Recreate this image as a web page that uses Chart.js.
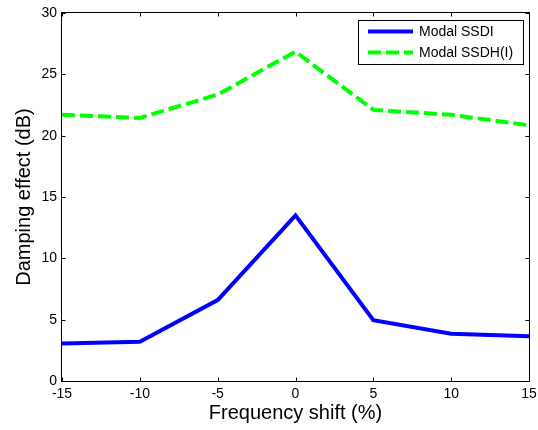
<!DOCTYPE html>
<html><head><meta charset="utf-8">
<script src="https://cdn.jsdelivr.net/npm/chart.js@4"></script>
<style>html,body{margin:0;padding:0;background:#fff}canvas{display:block}</style>
</head><body>
<canvas id="c" width="538" height="430"></canvas>
<script>
const frequencyShift = [-15, -10, -5, 0, 5, 10, 15];
const modalSSDI = [3.05, 3.2, 6.6, 13.5, 4.95, 3.85, 3.65];
const modalSSDH = [21.7, 21.45, 23.35, 26.85, 22.1, 21.7, 20.85];
const xTicks = [-15, -10, -5, 0, 5, 10, 15];
const yTicks = [0, 5, 10, 15, 20, 25, 30];
const seriesLabels = ['Modal SSDI', 'Modal SSDH(I)'];
const xTitle = 'Frequency shift (%)';
const yTitle = 'Damping effect (dB)';

const FONT = '"Liberation Sans", Arial, Helvetica, sans-serif';
Chart.defaults.font.family = FONT;
Chart.defaults.color = '#000';

const toPoints = vals => frequencyShift.map((x, i) => ({x: x, y: vals[i]}));

const boxPlugin = {
  id: 'boxTicks',
  afterDraw(chart) {
    const {ctx, chartArea: a, scales: {x, y}} = chart;
    const L = Math.round(a.left) - 0.5, R = Math.round(a.right) + 0.5;
    const T = Math.round(a.top) - 0.5, B = Math.round(a.bottom) + 0.5;
    ctx.save();
    ctx.strokeStyle = '#000';
    ctx.lineWidth = 1;
    ctx.setLineDash([]);
    ctx.strokeRect(L, T, R - L, B - T);
    const tl = 4;
    ctx.beginPath();
    xTicks.forEach(v => {
      const px = Math.round(x.getPixelForValue(v)) + 0.5;
      ctx.moveTo(px, B); ctx.lineTo(px, B - tl);
      ctx.moveTo(px, T); ctx.lineTo(px, T + tl);
    });
    yTicks.forEach(v => {
      const py = Math.round(y.getPixelForValue(v)) + 0.5;
      ctx.moveTo(L, py); ctx.lineTo(L + tl, py);
      ctx.moveTo(R, py); ctx.lineTo(R - tl, py);
    });
    ctx.stroke();

    // legend box
    const lx = 358.5, ly = 20.5, lw = 165, lh = 44;
    ctx.fillStyle = '#fff';
    ctx.fillRect(lx, ly, lw, lh);
    ctx.strokeRect(lx, ly, lw, lh);
    const rows = [31.5, 52.5];
    chart.data.datasets.forEach((ds, i) => {
      ctx.beginPath();
      ctx.strokeStyle = ds.borderColor;
      ctx.lineWidth = ds.borderWidth;
      ctx.setLineDash(ds.borderDash || []);
      ctx.moveTo(368, rows[i]); ctx.lineTo(413, rows[i]);
      ctx.stroke();
      ctx.setLineDash([]);
      ctx.fillStyle = '#000';
      ctx.font = '14px ' + FONT;
      ctx.textBaseline = 'middle';
      ctx.textAlign = 'left';
      ctx.fillText(ds.label, 419, rows[i] + 0.5);
    });
    ctx.restore();
  }
};

new Chart(document.getElementById('c'), {
  type: 'line',
  data: {
    datasets: [
      {label: seriesLabels[0], data: toPoints(modalSSDI), borderColor: '#0000ff', borderWidth: 4, pointRadius: 0, fill: false, tension: 0, borderJoinStyle: 'miter'},
      {label: seriesLabels[1], data: toPoints(modalSSDH), borderColor: '#00ff00', borderWidth: 4, borderDash: [13, 5], pointRadius: 0, fill: false, tension: 0, borderJoinStyle: 'miter'}
    ]
  },
  options: {
    responsive: false,
    animation: false,
    devicePixelRatio: 1,
    layout: {padding: {top: 13, right: 9, left: 0, bottom: 0}},
    plugins: {legend: {display: false}, tooltip: {enabled: false}},
    scales: {
      x: {
        type: 'linear', min: -15, max: 15,
        afterBuildTicks: s => { s.ticks = xTicks.map(v => ({value: v})); },
        afterFit: s => { s.height = 49; s.paddingLeft = 0; s.paddingRight = 0; },
        grid: {display: false, drawTicks: false},
        border: {display: false},
        ticks: {padding: 5, font: {size: 14}, color: '#000', maxRotation: 0, autoSkip: false},
        title: {display: true, text: xTitle, font: {size: 20, lineHeight: 1}, padding: {top: 0, bottom: 7}, color: '#000'}
      },
      y: {
        type: 'linear', min: 0, max: 30,
        afterBuildTicks: s => { s.ticks = yTicks.map(v => ({value: v})); },
        afterFit: s => { s.width = 62; s.paddingTop = 0; s.paddingBottom = 0; },
        grid: {display: false, drawTicks: false},
        border: {display: false},
        ticks: {padding: 5, font: {size: 14}, color: '#000', autoSkip: false},
        title: {display: true, text: yTitle, font: {size: 20, lineHeight: 1}, padding: {top: 14, bottom: 0}, color: '#000'}
      }
    }
  },
  plugins: [boxPlugin]
});
</script>
</body></html>
